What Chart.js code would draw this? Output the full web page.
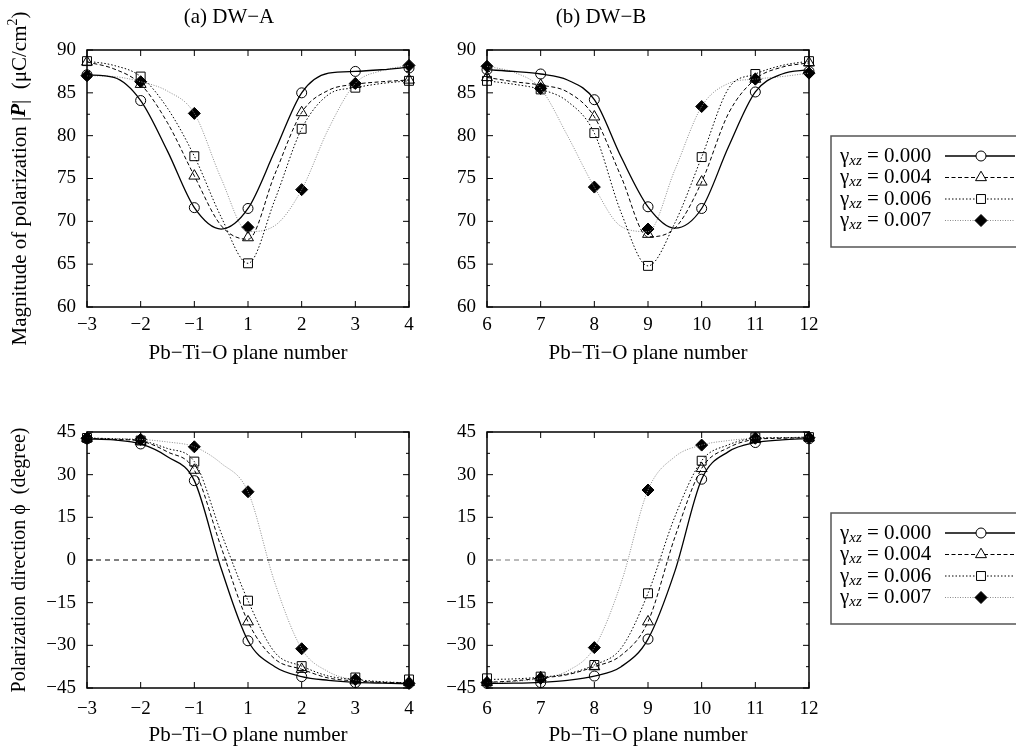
<!DOCTYPE html>
<html>
<head>
<meta charset="utf-8">
<script src="https://cdn.jsdelivr.net/npm/chart.js@4.4.1/dist/chart.umd.min.js"></script>
<style>
  body { margin: 0; background: #fff; width: 1016px; height: 748px; position: relative; overflow: hidden; }
  canvas { position: absolute; }
</style>
</head>
<body>
<canvas id="magA" width="430" height="375" style="left:0;top:0"></canvas>
<canvas id="magB" width="586" height="375" style="left:430px;top:0"></canvas>
<canvas id="dirA" width="430" height="373" style="left:0;top:375px"></canvas>
<canvas id="dirB" width="586" height="373" style="left:430px;top:375px"></canvas>
<script>
const FONT = "'Liberation Serif', 'Times New Roman', serif";

// tick labels of the two plane-number axes (no plane 0 in DW-A)
const planesA = ['−3', '−2', '−1', '1', '2', '3', '4'];
const planesB = ['6', '7', '8', '9', '10', '11', '12'];
const gammas = ['0.000', '0.004', '0.006', '0.007'];
const pointX = [0, 1, 2, 3, 4, 5, 6];
const curveX = [0, 0.5, 1, 1.5, 2, 2.5, 3, 3.5, 4, 4.5, 5, 5.5, 6];

// |P| (uC/cm2), DW-A : computed points
const magA000 = [87.1, 84.1, 71.6, 71.5, 85.0, 87.5, 87.9];
const magA004 = [88.6, 86.0, 75.3, 68.1, 82.7, 86.0, 86.5];
const magA006 = [88.7, 86.9, 77.6, 65.1, 80.8, 85.6, 86.4];
const magA007 = [87.0, 86.3, 82.6, 69.3, 73.7, 86.1, 88.2];
// |P|, DW-A : fitted curves read at half steps
const magAfit000 = [87.1, 86.8, 84.1, 78.2, 71.6, 69.1, 71.5, 78.2, 85.0, 87.3, 87.5, 87.7, 88.0];
const magAfit004 = [88.6, 87.8, 86.0, 81.5, 75.3, 69.5, 67.9, 75.5, 82.7, 85.3, 86.0, 86.3, 86.5];
const magAfit006 = [88.7, 88.2, 86.9, 83.2, 77.6, 70.5, 65.1, 72.5, 80.8, 84.8, 85.6, 86.1, 86.4];
const magAfit007 = [87.0, 86.9, 86.3, 85.2, 82.6, 75.0, 68.8, 69.5, 73.7, 80.8, 86.1, 87.6, 88.2];

// |P|, DW-B
const magB000 = [87.7, 87.2, 84.2, 71.7, 71.5, 85.1, 87.5];
const magB004 = [86.8, 85.9, 82.2, 68.5, 74.6, 86.6, 88.5];
const magB006 = [86.4, 85.4, 80.3, 64.8, 77.5, 87.2, 88.7];
const magB007 = [88.1, 85.5, 74.0, 69.1, 83.4, 86.6, 87.3];
const magBfit000 = [87.7, 87.5, 87.2, 86.5, 84.2, 77.5, 71.7, 69.2, 71.5, 78.7, 85.1, 87.2, 87.7];
const magBfit004 = [86.8, 86.3, 85.9, 85.1, 82.2, 75.2, 68.2, 69.2, 74.6, 82.6, 86.6, 88.0, 88.5];
const magBfit006 = [86.4, 86.0, 85.4, 84.0, 80.3, 71.0, 64.8, 69.8, 77.5, 85.5, 87.2, 88.2, 88.7];
const magBfit007 = [88.1, 87.4, 85.5, 80.0, 74.0, 69.4, 68.8, 76.0, 83.4, 86.1, 86.6, 86.9, 87.3];

// direction phi (degree), DW-A
const dirA000 = [42.6, 40.8, 27.9, -28.4, -41.0, -43.1, -43.4];
const dirA004 = [42.8, 41.8, 31.6, -21.7, -38.4, -42.4, -43.0];
const dirA006 = [42.9, 42.0, 34.6, -14.3, -37.3, -41.3, -42.0];
const dirA007 = [42.8, 42.4, 39.8, 24.0, -31.2, -42.0, -43.4];
const dirAfit000 = [42.6, 42.2, 40.8, 36.3, 27.9, -3.0, -28.4, -37.5, -41.0, -42.3, -43.0, -43.3, -43.5];
const dirAfit004 = [42.8, 42.4, 41.8, 38.0, 31.6, 4.5, -21.7, -34.8, -38.4, -41.5, -42.5, -43.0, -43.2];
const dirAfit006 = [42.9, 42.6, 42.0, 39.2, 34.6, 9.5, -14.3, -32.5, -37.3, -40.8, -42.0, -42.8, -43.2];
const dirAfit007 = [42.8, 42.7, 42.4, 41.5, 39.8, 34.0, 24.0, -8.0, -31.2, -39.3, -42.2, -43.0, -43.4];

// direction phi, DW-B
const dirB000 = [-43.4, -43.1, -40.8, -27.8, 28.4, 41.3, 42.6];
const dirB004 = [-43.0, -41.3, -37.5, -21.7, 32.2, 42.4, 43.0];
const dirB006 = [-41.6, -41.0, -36.9, -11.7, 34.9, 43.1, 43.2];
const dirB007 = [-43.1, -41.6, -30.8, 24.6, 40.4, 42.8, 43.0];
const dirBfit000 = [-43.4, -43.3, -43.0, -42.3, -40.8, -37.5, -27.8, -4.0, 28.4, 38.1, 41.3, 42.2, 42.7];
const dirBfit004 = [-43.0, -42.5, -41.5, -40.3, -37.5, -33.5, -21.7, 8.0, 32.2, 39.5, 42.4, 42.8, 43.0];
const dirBfit006 = [-42.0, -41.8, -41.2, -40.0, -36.9, -31.0, -11.7, 15.2, 34.9, 40.5, 42.8, 43.0, 43.2];
const dirBfit007 = [-43.1, -42.7, -41.6, -39.0, -30.8, -8.0, 24.6, 36.3, 40.4, 42.0, 42.8, 43.0, 43.2];

const styles = [
  { color: '#000', width: 1.3, dash: [], point: 'circle', r: 5, filled: false },
  { color: '#000', width: 1, dash: [4, 2.5], point: 'triangle', r: 6.3, filled: false },
  { color: '#000', width: 1, dash: [1.5, 2], point: 'rect', r: 6.3, filled: false },
  { color: '#8a8a8a', width: 1, dash: [1, 1.5], point: 'rectRot', r: 6, filled: true }
];

const f = (size, style) => (style ? style + ' ' : '') + size + 'px ' + FONT;

function drawRich(ctx, parts, x, y, align) {
  let w = 0;
  parts.forEach(p => { ctx.font = p[1]; w += ctx.measureText(p[0]).width; });
  let cx = align === 'center' ? x - w / 2 : x;
  ctx.textAlign = 'left';
  ctx.textBaseline = 'middle';
  parts.forEach(p => {
    ctx.font = p[1];
    ctx.fillText(p[0], cx, y + (p[2] || 0));
    cx += ctx.measureText(p[0]).width;
  });
}

function legendMarker(ctx, s, x, y) {
  ctx.save();
  ctx.setLineDash([]);
  ctx.lineWidth = 1;
  ctx.strokeStyle = '#000';
  ctx.fillStyle = s.filled ? '#000' : '#fff';
  ctx.beginPath();
  if (s.point === 'circle') {
    ctx.arc(x, y, s.r, 0, Math.PI * 2);
  } else if (s.point === 'triangle') {
    ctx.moveTo(x, y - s.r);
    ctx.lineTo(x + s.r * 0.866, y + s.r * 0.5);
    ctx.lineTo(x - s.r * 0.866, y + s.r * 0.5);
    ctx.closePath();
  } else if (s.point === 'rect') {
    const h = s.r * Math.SQRT1_2;
    ctx.rect(x - h, y - h, 2 * h, 2 * h);
  } else {
    ctx.moveTo(x - s.r, y);
    ctx.lineTo(x, y - s.r);
    ctx.lineTo(x + s.r, y);
    ctx.lineTo(x, y + s.r);
    ctx.closePath();
  }
  ctx.fill();
  ctx.stroke();
  ctx.restore();
}

// frame with gnuplot style inward ticks, titles and the boxed key
const deco = {
  id: 'deco',
  beforeDatasetsDraw(chart, args, o) {
    const { ctx, chartArea: a, scales: { x, y } } = chart;
    ctx.save();
    ctx.strokeStyle = '#000';
    ctx.lineWidth = 1;
    ctx.beginPath();
    x.ticks.forEach(t => {
      const px = x.getPixelForValue(t.value);
      ctx.moveTo(px, a.bottom); ctx.lineTo(px, a.bottom - 6);
      ctx.moveTo(px, a.top); ctx.lineTo(px, a.top + 6);
    });
    const half = o.step / 2;
    for (let k = 0; y.min + k * half <= y.max + 1e-9; k++) {
      const py = y.getPixelForValue(y.min + k * half);
      const len = k % 2 === 0 ? 6 : 3;
      ctx.moveTo(a.left, py); ctx.lineTo(a.left + len, py);
      ctx.moveTo(a.right, py); ctx.lineTo(a.right - len, py);
    }
    ctx.stroke();
    ctx.lineWidth = 1.5;
    ctx.strokeRect(a.left, a.top, a.right - a.left, a.bottom - a.top);
    ctx.restore();
  },
  afterDraw(chart, args, o) {
    const { ctx, chartArea: a } = chart;
    ctx.save();
    ctx.fillStyle = '#000';
    if (o.title) {
      ctx.font = f(21);
      ctx.textAlign = 'center';
      ctx.textBaseline = 'middle';
      ctx.fillText(o.title, o.titleX, 17);
    }
    if (o.yTitle) {
      ctx.save();
      ctx.translate(20, (a.top + a.bottom) / 2);
      ctx.rotate(-Math.PI / 2);
      drawRich(ctx, o.yTitle, 0, 0, 'center');
      ctx.restore();
    }
    if (o.legendTop != null) {
      const left = o.legendLeft, top = o.legendTop;
      ctx.strokeStyle = '#555';
      ctx.lineWidth = 1.5;
      ctx.strokeRect(left, top, 300, 111);
      gammas.forEach((g, k) => {
        const yy = top + 20 + k * 21.5;
        ctx.fillStyle = '#000';
        drawRich(ctx, [['γ', f(21)], ['xz', f(15, 'italic'), 5], [' = ' + g, f(21)]], left + 9, yy, 'left');
        const s = styles[k];
        ctx.strokeStyle = s.color;
        ctx.lineWidth = s.width;
        ctx.setLineDash(s.dash);
        ctx.beginPath();
        ctx.moveTo(left + 114, yy);
        ctx.lineTo(left + 184, yy);
        ctx.stroke();
        legendMarker(ctx, s, left + 150, yy);
      });
    }
    ctx.restore();
  }
};

function panel(id, cfg) {
  const datasets = [];
  if (cfg.zero) {
    datasets.push({
      data: [{ x: 0, y: 0 }, { x: 6, y: 0 }],
      borderColor: cfg.zero, borderWidth: 1, borderDash: [5, 4], pointRadius: 0
    });
  }
  cfg.fits.forEach((fit, k) => {
    const s = styles[k];
    datasets.push({
      data: curveX.map((x, i) => ({ x, y: fit[i] })),
      borderColor: s.color, borderWidth: s.width, borderDash: s.dash,
      pointRadius: 0, cubicInterpolationMode: 'monotone', fill: false
    });
  });
  cfg.points.forEach((pts, k) => {
    const s = styles[k];
    datasets.push({
      data: pointX.map((x, i) => ({ x, y: pts[i] })),
      showLine: false, clip: false,
      pointStyle: s.point, pointRadius: s.r, pointBorderWidth: 1,
      pointBorderColor: '#000', pointBackgroundColor: s.filled ? '#000' : 'rgba(0,0,0,0)'
    });
  });

  new Chart(document.getElementById(id), {
    type: 'line',
    data: { datasets },
    plugins: [deco],
    options: {
      responsive: false,
      animation: false,
      devicePixelRatio: 1,
      layout: { padding: cfg.pad },
      plugins: {
        legend: { display: false },
        tooltip: { enabled: false },
        deco: cfg.deco
      },
      scales: {
        x: {
          type: 'linear', min: 0, max: 6,
          ticks: {
            stepSize: 1, autoSkip: false, maxRotation: 0, padding: cfg.xTickPad,
            color: '#000', font: { family: FONT, size: 19 },
            callback: v => cfg.labels[v]
          },
          grid: { display: false, drawTicks: false },
          border: { display: false },
          title: {
            display: true, text: 'Pb−Ti−O plane number', color: '#000',
            font: { family: FONT, size: 21 }, padding: { top: 0, bottom: cfg.xTitlePad }
          },
          afterFit: s => { s.height = cfg.xHeight; }
        },
        y: {
          type: 'linear', min: cfg.yMin, max: cfg.yMax,
          ticks: {
            stepSize: cfg.deco.step, padding: 11, color: '#000',
            font: { family: FONT, size: 19 },
            callback: v => String(v).replace('-', '−')
          },
          grid: { display: false, drawTicks: false },
          border: { display: false },
          afterFit: s => { s.width = cfg.yWidth; }
        }
      }
    }
  });
}

const magTitle = [
  ['Magnitude of polarization |', f(21)],
  ['P', f(21, 'bold italic')],
  ['|  (μC/cm', f(21)],
  ['2', f(14), -7],
  [')', f(21)]
];
const dirTitle = [['Polarization direction ϕ  (degree)', f(20)]];

panel('magA', {
  labels: planesA, yMin: 60, yMax: 90,
  points: [magA000, magA004, magA006, magA007],
  fits: [magAfit000, magAfit004, magAfit006, magAfit007],
  pad: { left: 0, top: 50, right: 21, bottom: 0 },
  yWidth: 87, xHeight: 68, xTickPad: 6.6, xTitlePad: 9.4,
  deco: { step: 5, title: '(a) DW−A', titleX: 229, yTitle: magTitle }
});
panel('magB', {
  labels: planesB, yMin: 60, yMax: 90,
  points: [magB000, magB004, magB006, magB007],
  fits: [magBfit000, magBfit004, magBfit006, magBfit007],
  pad: { left: 0, top: 50, right: 207, bottom: 0 },
  yWidth: 57, xHeight: 68, xTickPad: 6.6, xTitlePad: 9.4,
  deco: { step: 5, title: '(b) DW−B', titleX: 171, legendLeft: 401, legendTop: 136 }
});
panel('dirA', {
  labels: planesA, yMin: -45, yMax: 45, zero: '#000',
  points: [dirA000, dirA004, dirA006, dirA007],
  fits: [dirAfit000, dirAfit004, dirAfit006, dirAfit007],
  pad: { left: 0, top: 57, right: 21, bottom: 0 },
  yWidth: 87, xHeight: 60, xTickPad: 9.6, xTitlePad: 0,
  deco: { step: 15, yTitle: dirTitle }
});
panel('dirB', {
  labels: planesB, yMin: -45, yMax: 45, zero: '#777',
  points: [dirB000, dirB004, dirB006, dirB007],
  fits: [dirBfit000, dirBfit004, dirBfit006, dirBfit007],
  pad: { left: 0, top: 57, right: 207, bottom: 0 },
  yWidth: 57, xHeight: 60, xTickPad: 9.6, xTitlePad: 0,
  deco: { step: 15, legendLeft: 401, legendTop: 138 }
});
</script>
</body>
</html>
